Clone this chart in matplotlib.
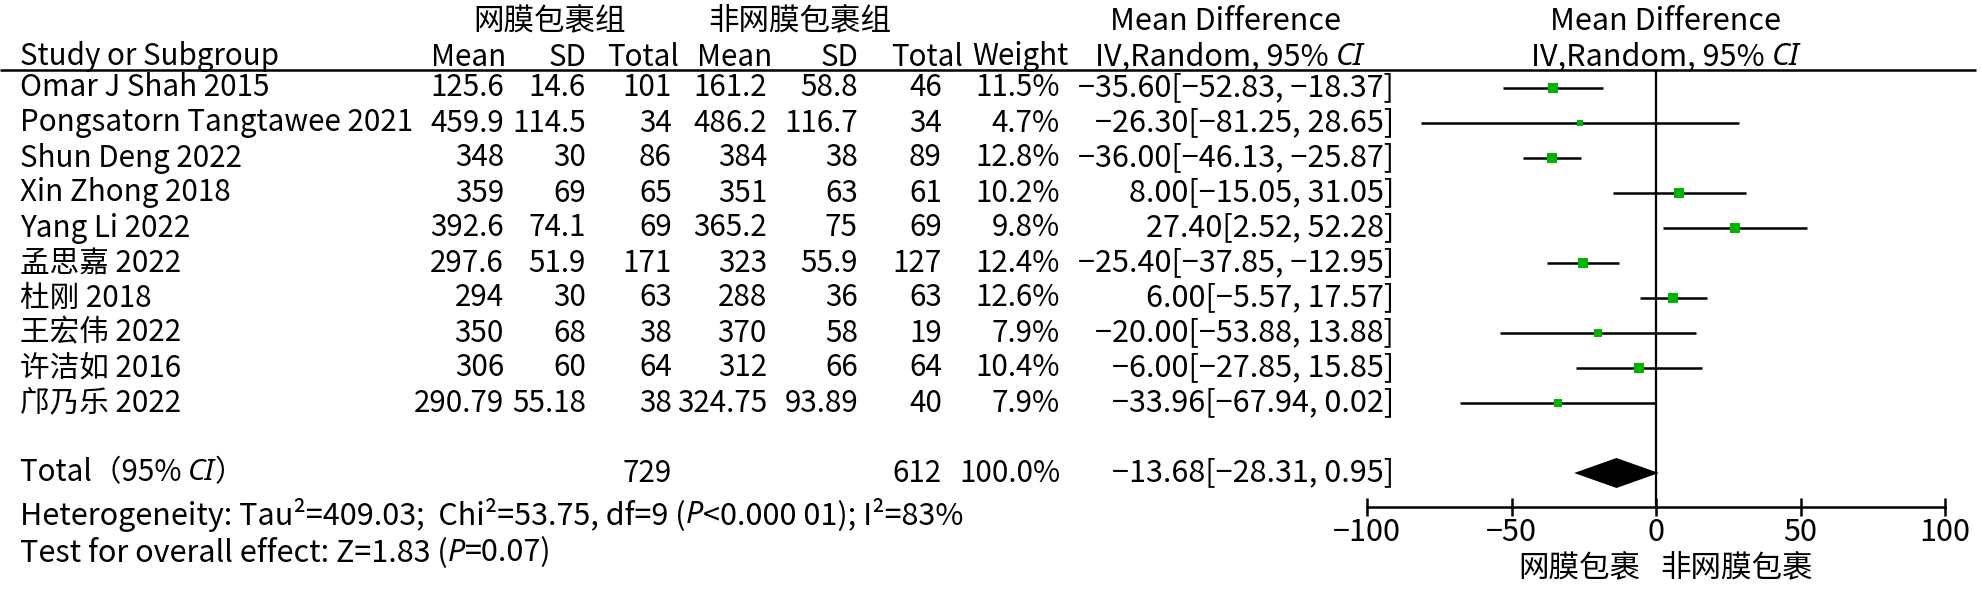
import matplotlib
matplotlib.use("Agg")
import matplotlib.pyplot as plt

plt.rcParams['font.family'] = ['Noto Sans CJK SC', 'DejaVu Sans']

# ---- data ----
studies = ["Omar J Shah 2015", "Pongsatorn Tangtawee 2021", "Shun Deng 2022",
           "Xin Zhong 2018", "Yang Li 2022", "孟思嘉 2022", "杜刚 2018",
           "王宏伟 2022", "许洁如 2016", "邝乃乐 2022"]
g1_mean = ["125.6", "459.9", "348", "359", "392.6", "297.6", "294", "350", "306", "290.79"]
g1_sd = ["14.6", "114.5", "30", "69", "74.1", "51.9", "30", "68", "60", "55.18"]
g1_n = [101, 34, 86, 65, 69, 171, 63, 38, 64, 38]
g2_mean = ["161.2", "486.2", "384", "351", "365.2", "323", "288", "370", "312", "324.75"]
g2_sd = ["58.8", "116.7", "38", "63", "75", "55.9", "36", "58", "66", "93.89"]
g2_n = [46, 34, 89, 61, 69, 127, 63, 19, 64, 40]
weight = [11.5, 4.7, 12.8, 10.2, 9.8, 12.4, 12.6, 7.9, 10.4, 7.9]
md = [-35.60, -26.30, -36.00, 8.00, 27.40, -25.40, 6.00, -20.00, -6.00, -33.96]
ci_lo = [-52.83, -81.25, -46.13, -15.05, 2.52, -37.85, -5.57, -53.88, -27.85, -67.94]
ci_hi = [-18.37, 28.65, -25.87, 31.05, 52.28, -12.95, 17.57, 13.88, 15.85, 0.02]

total_n1 = 729
total_n2 = 612
total_weight = 100.0
total_md = -13.68
total_lo = -28.31
total_hi = 0.95

x_ticks = [-100, -50, 0, 50, 100]
group1_label = "网膜包裹组"
group2_label = "非网膜包裹组"
favours_left = "网膜包裹"
favours_right = "非网膜包裹"

# ---- layout (figure pixels, origin top-left) ----
W, H = 1982, 596
FS = 22        # general text
FS_T = 21.3    # study table columns
ROW0, DY = 88, 35.0
ROW_TOTAL = 473
HDR1, HDR2, HLINE = 21, 57, 70
AX_Y = 507
X_LEFT, X_RIGHT = 1367, 1945

fig = plt.figure(figsize=(W / 100, H / 100), dpi=100)
ax = fig.add_axes([0, 0, 1, 1])
ax.set_xlim(0, W)
ax.set_ylim(H, 0)
ax.axis("off")

fig.canvas.draw()
renderer = fig.canvas.get_renderer()

ITALIC = dict(family=['Noto Sans', 'DejaVu Sans'], style='italic')


def seg_text(x, y, segments, ha="left", size=FS):
    """Draw a run of text pieces (some italic) as one line."""
    artists = []
    for s, ital in segments:
        kw = ITALIC if ital else {}
        t = ax.text(0, y, s, fontsize=size, va="center", ha="left", **kw)
        artists.append(t)
    widths = [t.get_window_extent(renderer).width for t in artists]
    total = sum(widths)
    if ha == "center":
        start = x - total / 2
    elif ha == "right":
        start = x - total
    else:
        start = x
    cur = start
    for t, w in zip(artists, widths):
        t.set_x(cur)
        cur += w
    return artists


def fmt(v):
    return f"{v:.2f}".replace("-", "−")


# ---- headers ----
ax.text(550, HDR1, group1_label, fontsize=FS, ha="center", va="center")
ax.text(800, HDR1, group2_label, fontsize=FS, ha="center", va="center")
ax.text(1225, HDR1, "Mean Difference", fontsize=FS, ha="center", va="center")
ax.text(1665, HDR1, "Mean Difference", fontsize=FS, ha="center", va="center")

ax.text(20, HDR2, "Study or Subgroup", fontsize=FS_T, ha="left", va="center")
for xr, lab in [(506, "Mean"), (586, "SD"), (679, "Total"),
                (772, "Mean"), (858, "SD"), (963, "Total"), (1068, "Weight")]:
    ax.text(xr, HDR2, lab, fontsize=FS_T, ha="right", va="center")
seg_text(1229, HDR2, [("IV,Random, 95% ", False), ("CI", True)], ha="center")
seg_text(1665, HDR2, [("IV,Random, 95% ", False), ("CI", True)], ha="center")

ax.plot([0, 1976], [HLINE, HLINE], color="black", lw=1.8, solid_capstyle="butt")

# ---- study rows ----
COLS = [504, 586, 672, 767, 858, 942, 1060]
for i, name in enumerate(studies):
    y = ROW0 + i * DY
    ax.text(20, y, name, fontsize=FS_T, ha="left", va="center")
    vals = [g1_mean[i], g1_sd[i], str(g1_n[i]), g2_mean[i], g2_sd[i],
            str(g2_n[i]), f"{weight[i]:.1f}%"]
    for xr, v in zip(COLS, vals):
        ax.text(xr, y, v, fontsize=FS_T, ha="right", va="center")
    ax.text(1394, y, f"{fmt(md[i])}[{fmt(ci_lo[i])}, {fmt(ci_hi[i])}]",
            fontsize=FS, ha="right", va="center")

# ---- totals and footnotes ----
seg_text(20, ROW_TOTAL, [("Total（95% ", False), ("CI", True), ("）", False)], size=FS_T)
ax.text(COLS[2], ROW_TOTAL, str(total_n1), fontsize=FS_T, ha="right", va="center")
ax.text(COLS[5], ROW_TOTAL, str(total_n2), fontsize=FS_T, ha="right", va="center")
ax.text(COLS[6], ROW_TOTAL, f"{total_weight:.1f}%", fontsize=FS_T, ha="right", va="center")
ax.text(1394, ROW_TOTAL, f"{fmt(total_md)}[{fmt(total_lo)}, {fmt(total_hi)}]",
        fontsize=FS, ha="right", va="center")

seg_text(20, 515, [("Heterogeneity: Tau²=409.03;  Chi²=53.75, df=9 (", False),
                   ("P", True), ("<0.000 01); I²=83%", False)])
seg_text(20, 553, [("Test for overall effect: Z=1.83 (", False), ("P", True),
                   ("=0.07)", False)])

# ---- forest panel ----
fa = fig.add_axes([X_LEFT / W, (H - AX_Y) / H, (X_RIGHT - X_LEFT) / W, (AX_Y - HLINE) / H])
fa.set_xlim(x_ticks[0], x_ticks[-1])
fa.set_ylim(AX_Y, HLINE)
fa.patch.set_alpha(0)
for side in ("top", "right", "left"):
    fa.spines[side].set_visible(False)
fa.spines["bottom"].set_linewidth(1.8)
fa.set_yticks([])
fa.set_xticks(x_ticks)
fa.set_xticklabels([str(t).replace("-", "−") for t in x_ticks], fontsize=FS)
fa.tick_params(axis="x", direction="inout", length=13, width=1.8, pad=1)

fa.axvline(0, color="black", lw=1.6)

for i in range(len(studies)):
    y = ROW0 + i * DY
    fa.plot([ci_lo[i], ci_hi[i]], [y, y], color="black", lw=1.8, solid_capstyle="butt")
    side_px = 2.9 * weight[i] ** 0.5
    fa.plot(md[i], y, marker="s", color="#00b400", markersize=side_px * 0.72,
            markeredgewidth=0)

half_h = 15
fa.fill([total_lo, total_md, total_hi, total_md],
        [ROW_TOTAL, ROW_TOTAL - half_h, ROW_TOTAL, ROW_TOTAL + half_h],
        color="black", lw=0)

ax.text(1640, 568, favours_left, fontsize=FS, ha="right", va="center")
ax.text(1660, 568, favours_right, fontsize=FS, ha="left", va="center")

fig.savefig("out.png", dpi=100)
